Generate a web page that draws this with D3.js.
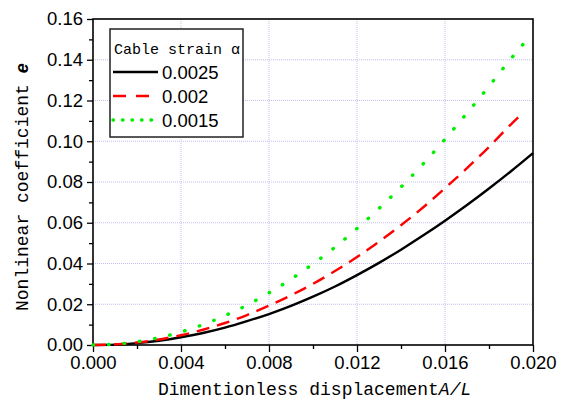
<!DOCTYPE html>
<html>
<head>
<meta charset="utf-8">
<script src="https://cdn.jsdelivr.net/npm/d3@7"></script>
<style>
  body { margin: 0; background: #fff; }
  .tick text { font-family: "Liberation Sans", Arial, sans-serif; font-size: 18.5px; fill: #000; }
  .title { font-family: "Liberation Mono", monospace; font-size: 18px; fill: #000; }
</style>
</head>
<body>
<div id="chart"></div>
<script>
// x values (dimensionless displacement A/L)
var xs = [0, 0.001, 0.002, 0.003, 0.004, 0.005, 0.006, 0.007, 0.008, 0.009, 0.010,
          0.011, 0.012, 0.013, 0.014, 0.015, 0.016, 0.017, 0.018, 0.019, 0.020];
// cable strain 0.0025
var e0025 = [0, 0.0002, 0.0009, 0.0021, 0.0038, 0.0059, 0.0085, 0.0117, 0.0152, 0.0192, 0.0237,
             0.0287, 0.0343, 0.0403, 0.0468, 0.0537, 0.0610, 0.0687, 0.0768, 0.0853, 0.0942];
// cable strain 0.002 (ends at 0.0195)
var xs002 = [0, 0.001, 0.002, 0.003, 0.004, 0.005, 0.006, 0.007, 0.008, 0.009, 0.010,
             0.011, 0.012, 0.013, 0.014, 0.015, 0.016, 0.017, 0.018, 0.019, 0.0195];
var e002 = [0, 0.0003, 0.0012, 0.0027, 0.0048, 0.0075, 0.0108, 0.0147, 0.0193, 0.0244, 0.0300,
            0.0363, 0.0432, 0.0507, 0.0588, 0.0675, 0.0770, 0.0868, 0.0972, 0.1083, 0.1135];
// cable strain 0.0015 (ends at 0.0197)
var xs0015 = [0, 0.001, 0.002, 0.003, 0.004, 0.005, 0.006, 0.007, 0.008, 0.009, 0.010,
              0.011, 0.012, 0.013, 0.014, 0.015, 0.016, 0.017, 0.018, 0.019, 0.0197];
var e0015 = [0, 0.0004, 0.0016, 0.0036, 0.0064, 0.0100, 0.0144, 0.0196, 0.0256, 0.0323, 0.0398,
             0.0480, 0.0572, 0.0670, 0.0775, 0.0888, 0.1010, 0.1138, 0.1270, 0.1405, 0.1495];

var seriesNames = ['0.0025', '0.002', '0.0015'];
var xTicks = [0, 0.004, 0.008, 0.012, 0.016, 0.020];
var yTicks = [0, 0.02, 0.04, 0.06, 0.08, 0.10, 0.12, 0.14, 0.16];

var margin = {top: 19, right: 32, bottom: 61, left: 93};
var W = 565, H = 406;
var width = W - margin.left - margin.right;
var height = H - margin.top - margin.bottom;

var svg = d3.select("#chart").append("svg")
  .attr("width", W)
  .attr("height", H);
var g = svg.append("g")
  .attr("transform", "translate(" + margin.left + "," + margin.top + ")");

var x = d3.scaleLinear().domain([0, 0.02]).range([0, width]);
var y = d3.scaleLinear().domain([0, 0.16]).range([height, 0]);

// grid
g.append("g").selectAll("line")
  .data(xTicks.slice(1, -1))
  .enter().append("line")
  .attr("x1", function(d) { return x(d); })
  .attr("x2", function(d) { return x(d); })
  .attr("y1", 0).attr("y2", height)
  .attr("stroke", "#c0c0f2").attr("stroke-width", 1)
  .attr("stroke-dasharray", "1,1");
g.append("g").selectAll("line")
  .data(yTicks.slice(1, -1))
  .enter().append("line")
  .attr("y1", function(d) { return y(d); })
  .attr("y2", function(d) { return y(d); })
  .attr("x1", 0).attr("x2", width)
  .attr("stroke", "#c0c0f2").attr("stroke-width", 1)
  .attr("stroke-dasharray", "1,1");

// minor ticks
var xMinor = d3.range(0.002, 0.02, 0.004);
var yMinor = d3.range(0.01, 0.16, 0.02);
g.append("g").attr("transform", "translate(0," + height + ")")
  .call(d3.axisBottom(x).tickValues(xMinor).tickSize(4).tickFormat(""))
  .call(function(s) { s.select(".domain").remove(); s.selectAll("line").attr("stroke-width", 1.3); });
g.append("g")
  .call(d3.axisLeft(y).tickValues(yMinor).tickSize(4).tickFormat(""))
  .call(function(s) { s.select(".domain").remove(); s.selectAll("line").attr("stroke-width", 1.3); });

// major axes
var xAxis = g.append("g").attr("transform", "translate(0," + height + ")")
  .call(d3.axisBottom(x).tickValues(xTicks).tickSize(7).tickPadding(4).tickFormat(d3.format(".3f")));
var yAxis = g.append("g")
  .call(d3.axisLeft(y).tickValues(yTicks).tickSize(6).tickPadding(4).tickFormat(d3.format(".2f")));
[xAxis, yAxis].forEach(function(a) {
  a.select(".domain").remove();
  a.selectAll("line").attr("stroke-width", 1.3);
});

// frame
g.append("rect")
  .attr("width", width).attr("height", height)
  .attr("fill", "none").attr("stroke", "#000").attr("stroke-width", 1.6);

// curves
var line = d3.line()
  .x(function(d) { return x(d[0]); })
  .y(function(d) { return y(d[1]); })
  .curve(d3.curveMonotoneX);

var series = [
  {name: seriesNames[0], pts: d3.zip(xs, e0025), color: "#000", dash: null, w: 2.4, cap: "butt"},
  {name: seriesNames[1], pts: d3.zip(xs002, e002), color: "#ff0000", dash: "13,8", w: 2.4, cap: "butt"},
  {name: seriesNames[2], pts: d3.zip(xs0015, e0015), color: "#00ee00", dash: "0.5,15", w: 3.4, cap: "round"}
];

g.selectAll(".curve")
  .data(series)
  .enter().append("path")
  .attr("class", "curve")
  .attr("d", function(d) { return line(d.pts); })
  .attr("fill", "none")
  .attr("stroke", function(d) { return d.color; })
  .attr("stroke-width", function(d) { return d.w; })
  .attr("stroke-linecap", function(d) { return d.cap; })
  .attr("stroke-dasharray", function(d) { return d.dash; });

// legend
var lg = svg.append("g");
lg.append("rect")
  .attr("x", 110).attr("y", 29).attr("width", 133).attr("height", 108)
  .attr("fill", "#fff").attr("stroke", "#222").attr("stroke-width", 1.5);
lg.append("text")
  .attr("x", 114).attr("y", 54)
  .attr("font-family", "Liberation Mono, monospace")
  .attr("font-size", 15)
  .text("Cable strain α");
var items = lg.selectAll(".item")
  .data(series)
  .enter().append("g")
  .attr("class", "item")
  .attr("transform", function(d, i) { return "translate(0," + (72 + i * 24) + ")"; });
items.append("line")
  .attr("x1", 113).attr("x2", 158)
  .attr("stroke", function(d) { return d.color; })
  .attr("stroke-width", function(d) { return d.w; })
  .attr("stroke-linecap", function(d) { return d.cap; })
  .attr("stroke-dasharray", function(d) { return d.dash === "13,8" ? "13,10" : (d.dash ? "0.5,9" : null); });
items.append("text")
  .attr("x", 162).attr("y", 6.5)
  .attr("font-family", "Liberation Sans, Arial, sans-serif")
  .attr("font-size", 18.5)
  .text(function(d) { return d.name; });

// axis titles
var xt = svg.append("text")
  .attr("class", "title")
  .attr("x", 158).attr("y", 395);
xt.append("tspan").text("Dimentionless displacement");
xt.append("tspan").attr("font-style", "italic").text("A/L");

var yt = svg.append("text")
  .attr("class", "title")
  .attr("transform", "translate(28,311) rotate(-90)")
  .attr("x", 0).attr("y", 0);
yt.append("tspan").text("Nonlinear coefficient ");
yt.append("tspan")
  .attr("font-family", "Liberation Sans, Arial, sans-serif")
  .attr("font-style", "italic").attr("font-weight", "bold")
  .text("e");
</script>
</body>
</html>
